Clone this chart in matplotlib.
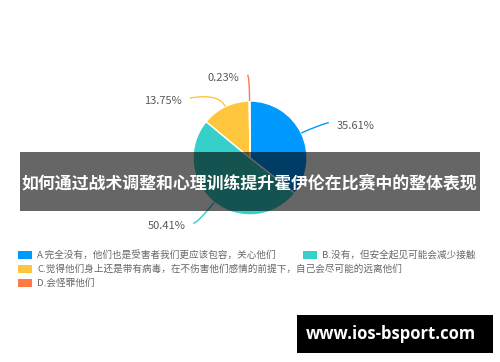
import numpy as np
import matplotlib
matplotlib.use("Agg")
import matplotlib.pyplot as plt
from matplotlib.path import Path
from matplotlib.patches import PathPatch, Rectangle

plt.rcParams["font.family"] = ["Noto Sans CJK SC", "DejaVu Sans"]

# data
labels = [
    "A.完全没有，他们也是受害者我们更应该包容，关心他们",
    "B.没有，但安全起见可能会减少接触",
    "C.觉得他们身上还是带有病毒，在不伤害他们感情的前提下，自己会尽可能的远离他们",
    "D.会怪罪他们",
]
values = [35.61, 50.41, 13.75, 0.23]
pct_text = ["35.61%", "50.41%", "13.75%", "0.23%"]
colors = ["#0099ff", "#36cfc9", "#ffc53d", "#ff7a45"]
title = "如何通过战术调整和心理训练提升霍伊伦在比赛中的整体表现"
watermark = "www.ios-bsport.com"

W, H = 500, 362
fig = plt.figure(figsize=(W / 100, H / 100), dpi=100)
ax = fig.add_axes([0, 0, 1, 1])

cx, cy, r = 250, H - 158, 57
ax.pie(values, colors=colors, startangle=90, counterclock=False,
       center=(cx, cy), radius=r, frame=True,
       wedgeprops=dict(edgecolor="white", linewidth=1))
ax.set_xlim(0, W)
ax.set_ylim(0, H)
ax.set_aspect("equal")
ax.axis("off")

# leader lines and percentage labels (per-slice line geometry)
len1 = [15, 27, 15, 26]
len2 = [14, 4, 29, 2]
rise = [4, 0, -5, 0]
cum = np.cumsum([0] + values[:-1])
for i, v in enumerate(values):
    mid = cum[i] + v / 2
    ang = np.deg2rad(90 - mid / sum(values) * 360)
    d = np.array([np.cos(ang), np.sin(ang)])
    p0 = np.array([cx, cy]) + d * r
    p1 = np.array([cx, cy]) + d * (r + len1[i])
    side = 1 if d[0] > 0.02 else -1
    p2 = p1 + np.array([side * len2[i], rise[i]])
    path = Path([p0, p1, p2], [Path.MOVETO, Path.CURVE3, Path.CURVE3])
    ax.add_patch(PathPatch(path, fill=False, edgecolor=colors[i], lw=1))
    ax.text(p2[0] + side * 8, p2[1] - 3, pct_text[i], fontsize=8,
            color="#595959", ha="left" if side > 0 else "right", va="center")

# overlay band with title
ax.add_patch(Rectangle((20, H - 211), 460, 59, facecolor="black", alpha=0.6,
                       edgecolor="none", zorder=5))
ax.text(249, H - 183, title, fontsize=12.2, color="white", fontweight="bold",
        ha="center", va="center", zorder=6)

# legend
leg_pos = [(18, 255), (303, 255), (18, 269), (18, 283)]
for (lx, ly), lab, c in zip(leg_pos, labels, colors):
    ax.add_patch(Rectangle((lx, H - ly - 4), 14, 8, facecolor=c, edgecolor="none"))
    ax.text(lx + 19, H - ly, lab, fontsize=6.9, color="#666666",
            ha="left", va="center")

# watermark
ax.add_patch(Rectangle((297, H - 353), 196, 38, facecolor="black", edgecolor="none"))
ax.text(391, H - 334, watermark, fontsize=12, color="white", fontweight="bold",
        family=["Open Sans", "DejaVu Sans"], ha="center", va="center")

fig.savefig("out.png", dpi=100)
